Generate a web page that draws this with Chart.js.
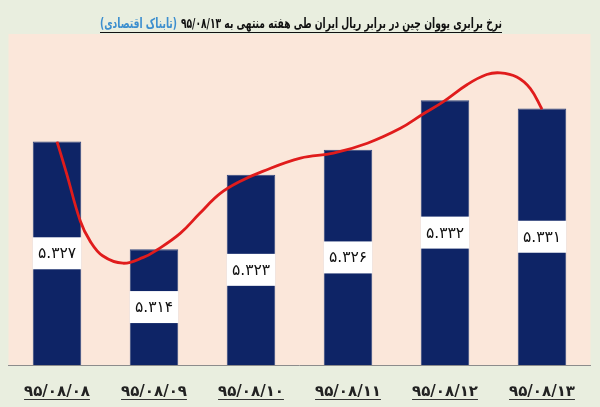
<!DOCTYPE html>
<html>
<head>
<meta charset="utf-8">
<script src="https://cdn.jsdelivr.net/npm/chart.js@4.4.1/dist/chart.umd.min.js"></script>
<style>
  html, body { margin: 0; padding: 0; background: #e9eedf; }
  #wrap { width: 600px; height: 407px; }
</style>
</head>
<body>
<div id="wrap"><canvas id="mycanvas"></canvas></div>
<script>
// data
var dates = ['۹۵/۰۸/۰۸', '۹۵/۰۸/۰۹', '۹۵/۰۸/۱۰', '۹۵/۰۸/۱۱', '۹۵/۰۸/۱۲', '۹۵/۰۸/۱۳'];
var rates = [5.327, 5.314, 5.323, 5.326, 5.332, 5.331];
var rateLabels = ['۵.۳۲۷', '۵.۳۱۴', '۵.۳۲۳', '۵.۳۲۶', '۵.۳۳۲', '۵.۳۳۱'];

// red hand-drawn curve (x in category index units)
var curveX = [0, 0.10, 0.24, 0.34, 0.47, 0.68, 0.89, 1.03, 1.27, 1.47, 1.68, 1.89, 2.12,
              2.51, 2.85, 3.20, 3.54, 3.77, 3.98, 4.23, 4.43, 4.57, 4.74, 4.88, 5.0];
var curveY = [5.3270, 5.3231, 5.3174, 5.3150, 5.3132, 5.3123, 5.3130, 5.3139, 5.3159, 5.3183,
              5.3207, 5.3222, 5.3234, 5.3250, 5.3256, 5.3268, 5.3286, 5.3303, 5.3318, 5.3339,
              5.3351, 5.3353, 5.3348, 5.3334, 5.3309];

var titleMain = 'نرخ برابری یووان چین در برابر ریال ایران طی هفته منتهی به ۹۵/۰۸/۱۳';
var titleSource = '(تابناک اقتصادی)';

var curve = [];
for (var k in curveX) {
  curve.push({ x: curveX[k], y: curveY[k] });
}

var FONT = '"DejaVu Sans", sans-serif';

var bgPlugin = {
  id: 'bg',
  beforeDraw: function(chart) {
    var c = chart.ctx, a = chart.chartArea;
    c.save();
    c.fillStyle = '#e9eedf';
    c.fillRect(0, 0, chart.width, chart.height);
    c.fillStyle = '#fbe7da';
    c.fillRect(a.left, a.top, a.right - a.left, a.bottom - a.top);
    c.restore();
  }
};

var labelPlugin = {
  id: 'boxLabels',
  afterDraw: function(chart) {
    var c = chart.ctx;
    var sx = chart.scales.x;
    var sy = chart.scales.y;
    c.save();

    // white value boxes in the middle of each bar
    var bw = (sx.getPixelForTick(1) - sx.getPixelForTick(0)) * 0.5;
    rates.forEach(function(v, i) {
      var x = sx.getPixelForTick(i);
      var top = sy.getPixelForValue(v);
      var cy = (top + sy.bottom) / 2;
      c.fillStyle = '#ffffff';
      c.fillRect(x - bw / 2, cy - 16, bw, 32);
      c.fillStyle = '#111111';
      c.font = '15.5px ' + FONT;
      c.textAlign = 'center';
      c.textBaseline = 'middle';
      c.fillText(rateLabels[i], x, cy + 1);
    });

    // underline under the date labels
    c.font = 'bold 15px ' + FONT;
    c.strokeStyle = '#333333';
    c.lineWidth = 1;
    dates.forEach(function(d, i) {
      var x = sx.getPixelForTick(i);
      var w = c.measureText(d).width;
      c.beginPath();
      c.moveTo(x - w / 2, 399.5);
      c.lineTo(x + w / 2, 399.5);
      c.stroke();
    });
    c.restore();

    // title, two colours, squeezed to the reference width
    c.save();
    c.font = 'bold 14px ' + FONT;
    var gap = 6;
    var w1 = c.measureText(titleMain).width;
    var w2 = c.measureText(titleSource).width;
    var sc = 402 / (w1 + gap + w2);
    c.translate(100, 0);
    c.scale(sc, 1);
    var right = w1 + gap + w2;
    c.direction = 'rtl';
    c.textAlign = 'right';
    c.textBaseline = 'alphabetic';
    c.fillStyle = '#111111';
    c.fillText(titleMain, right, 28);
    c.fillStyle = '#3d8fcf';
    c.fillText(titleSource, w2, 28);
    c.restore();
    c.save();
    c.strokeStyle = '#111111';
    c.lineWidth = 1;
    c.beginPath();
    c.moveTo(100, 32.5);
    c.lineTo(502, 32.5);
    c.stroke();
    c.restore();
  }
};

var ctx = document.getElementById('mycanvas');

var chart = new Chart(ctx, {
  data: {
    labels: dates,
    datasets: [
      {
        type: 'bar',
        label: 'rate',
        data: rates,
        xAxisID: 'x',
        yAxisID: 'y',
        backgroundColor: '#0e2466',
        borderColor: '#33477e',
        borderWidth: 1,
        borderSkipped: 'bottom',
        barPercentage: 1,
        categoryPercentage: 0.5,
        grouped: false,
        order: 1
      },
      {
        type: 'line',
        label: 'curve',
        data: curve,
        xAxisID: 'x2',
        yAxisID: 'y',
        borderColor: '#e01c1c',
        borderWidth: 2.8,
        pointRadius: 0,
        tension: 0.4,
        fill: false,
        order: 0
      }
    ]
  },
  options: {
    responsive: true,
    maintainAspectRatio: false,
    animation: false,
    layout: { padding: { top: 34, left: 8.5, right: 9.5, bottom: 0 } },
    plugins: {
      legend: { display: false },
      tooltip: { enabled: false }
    },
    scales: {
      x: {
        type: 'category',
        offset: true,
        grid: { display: false, drawTicks: false },
        border: { display: true, color: '#8c8c8c', width: 1 },
        ticks: {
          color: '#222222',
          font: { family: FONT, size: 15, weight: 'bold' },
          padding: 18,
          maxRotation: 0,
          autoSkip: false
        },
        afterFit: function(scale) { scale.height = 42; }
      },
      x2: {
        type: 'linear',
        display: false,
        min: -0.5,
        max: 5.5
      },
      y: {
        display: false,
        min: 5.300,
        max: 5.340
      }
    }
  },
  plugins: [bgPlugin, labelPlugin]
});
</script>
</body>
</html>
